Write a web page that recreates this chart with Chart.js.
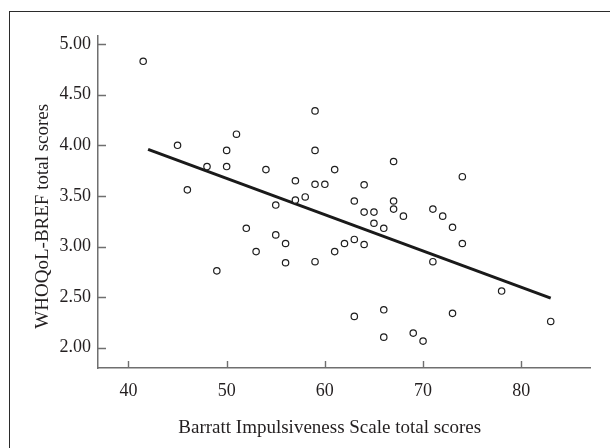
<!DOCTYPE html>
<html>
<head>
<meta charset="utf-8">
<script src="https://cdn.jsdelivr.net/npm/chart.js@4.4.1/dist/chart.umd.min.js"></script>
<style>
  html, body { margin: 0; padding: 0; background: #fff; overflow: hidden; }
  #frame { position: absolute; left: 9px; top: 11px; width: 800px; height: 600px;
           border-left: 1.5px solid #2b2b2b; border-top: 1.5px solid #2b2b2b; }
  #wrap { position: absolute; left: 0; top: 0; width: 610px; height: 448px; }
</style>
</head>
<body>
<div id="frame"></div>
<div id="wrap"><canvas id="c" width="610" height="448"></canvas></div>
<script>
// Barratt Impulsiveness Scale total scores (x) and WHOQoL-BREF total scores (y)
const bisScores = [41.5, 45, 46, 48, 49, 50, 50, 51, 52, 53, 54, 55, 55, 56, 56, 57, 57, 58,
  59, 59, 59, 59, 60, 61, 61, 62, 63, 63, 63, 64, 64, 64, 65, 65, 66, 66, 66, 67, 67, 67,
  68, 69, 70, 71, 71, 72, 73, 73, 74, 74, 78, 83];
const whoqolScores = [4.83, 4.00, 3.56, 3.79, 2.76, 3.95, 3.79, 4.11, 3.18, 2.95, 3.76, 3.41, 3.115, 3.03, 2.84, 3.65, 3.46, 3.49,
  4.34, 3.95, 3.615, 2.85, 3.615, 3.76, 2.95, 3.03, 3.45, 3.07, 2.31, 3.61, 3.34, 3.02, 3.34, 3.23, 3.18, 2.375, 2.105, 3.84, 3.45, 3.37,
  3.30, 2.145, 2.066, 3.37, 2.85, 3.30, 3.19, 2.34, 3.69, 3.03, 2.56, 2.26];
// regression line end points
const fitX = [42, 83];
const fitY = [3.96, 2.49];
// tick values
const xTickValues = [40, 50, 60, 70, 80];
const yTickValues = [2.0, 2.5, 3.0, 3.5, 4.0, 4.5, 5.0];
const xTitle = 'Barratt Impulsiveness Scale total scores';
const yTitle = 'WHOQoL-BREF total scores';

const scatterData = bisScores.map((x, i) => ({ x: x, y: whoqolScores[i] }));
const fitData = fitX.map((x, i) => ({ x: x, y: fitY[i] }));

const textColor = '#231f20';
const axisColor = '#6f6f6f';
const fontFamily = '"Liberation Serif", "DejaVu Serif", serif';

const inwardTicks = {
  id: 'inwardTicks',
  afterDraw(chart) {
    const ctx = chart.ctx;
    const xs = chart.scales.x, ys = chart.scales.y;
    ctx.save();
    ctx.strokeStyle = axisColor;
    ctx.lineWidth = 1.4;
    ctx.beginPath();
    xs.ticks.forEach(t => {
      const px = Math.round(xs.getPixelForValue(t.value)) + 0.5;
      ctx.moveTo(px, xs.top);
      ctx.lineTo(px, xs.top - 7);
    });
    ys.ticks.forEach(t => {
      const py = Math.round(ys.getPixelForValue(t.value)) + 0.5;
      ctx.moveTo(ys.right, py);
      ctx.lineTo(ys.right + 8, py);
    });
    ctx.stroke();
    ctx.restore();
  }
};

new Chart(document.getElementById('c'), {
  type: 'scatter',
  data: {
    datasets: [
      {
        type: 'scatter',
        data: scatterData,
        pointStyle: 'circle',
        pointRadius: 3.2,
        pointHoverRadius: 3.2,
        borderWidth: 1.2,
        borderColor: '#1e1e1e',
        backgroundColor: '#ffffff'
      },
      {
        type: 'line',
        data: fitData,
        borderColor: '#1a1a1a',
        borderWidth: 3,
        pointRadius: 0,
        fill: false
      }
    ]
  },
  options: {
    responsive: false,
    animation: false,
    devicePixelRatio: 1,
    layout: { padding: { left: 0, top: 36, right: 20, bottom: 0 } },
    plugins: { legend: { display: false }, tooltip: { enabled: false } },
    scales: {
      x: {
        type: 'linear',
        min: 36.9,
        max: 87.0,
        afterFit(s) { s.height = 80; },
        afterBuildTicks(s) { s.ticks = xTickValues.map(v => ({ value: v })); },
        grid: { display: false, drawTicks: false },
        border: { display: true, color: axisColor, width: 1.5 },
        ticks: {
          padding: 12,
          color: textColor,
          font: { family: fontFamily, size: 18 },
          callback: v => String(v)
        },
        title: {
          display: true,
          text: xTitle + '      ',
          color: textColor,
          font: { family: fontFamily, size: 19 },
          padding: { top: 0, bottom: 9 }
        }
      },
      y: {
        type: 'linear',
        min: 1.80,
        max: 5.08,
        afterFit(s) { s.width = 98; },
        afterBuildTicks(s) { s.ticks = yTickValues.map(v => ({ value: v })); },
        grid: { display: false, drawTicks: false },
        border: { display: true, color: axisColor, width: 1.5 },
        ticks: {
          padding: 7,
          color: textColor,
          font: { family: fontFamily, size: 18 },
          callback: v => Number(v).toFixed(2)
        },
        title: {
          display: true,
          text: yTitle + '      ',
          color: textColor,
          font: { family: fontFamily, size: 19 },
          padding: { top: 32, bottom: 0 }
        }
      }
    }
  },
  plugins: [inwardTicks]
});
</script>
</body>
</html>
